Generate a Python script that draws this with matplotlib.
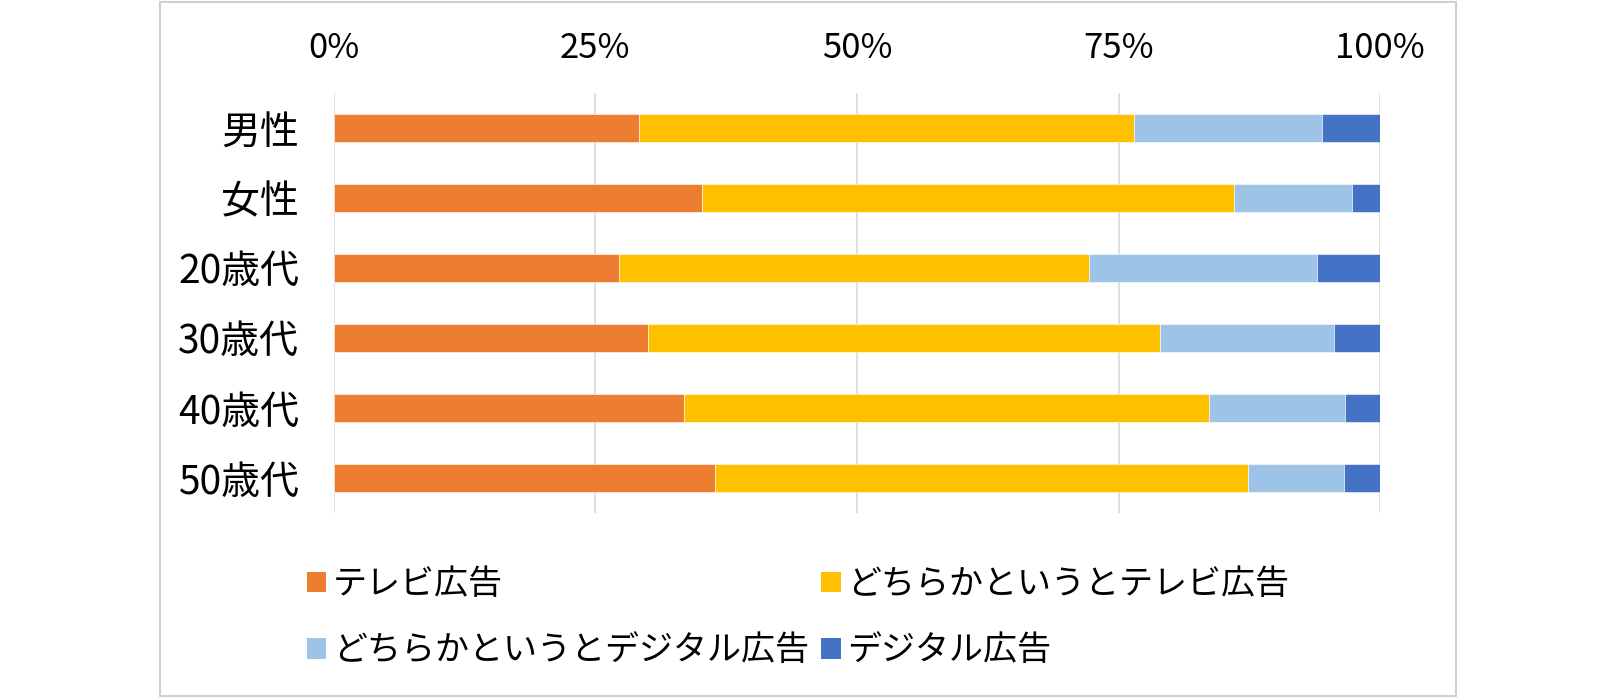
import matplotlib
matplotlib.use('Agg')
import matplotlib.pyplot as plt
from matplotlib.patches import Rectangle, Patch
import numpy as np

plt.rcParams['font.family'] = ['Noto Sans CJK JP', 'DejaVu Sans']

# data (percent)
categories = ['男性', '女性', '20歳代', '30歳代', '40歳代', '50歳代']
series_names = ['テレビ広告', 'どちらかというとテレビ広告',
                'どちらかというとデジタル広告', 'デジタル広告']
tv = [29.2, 35.2, 27.3, 30.0, 33.5, 36.4]
rather_tv = [47.3, 50.8, 44.9, 49.0, 50.1, 51.0]
rather_digital = [17.9, 11.3, 21.8, 16.6, 13.0, 9.1]
digital = [5.6, 2.7, 6.0, 4.4, 3.4, 3.5]
colors = ['#ED7D31', '#FFC000', '#9DC3E6', '#4472C4']

fig = plt.figure(figsize=(16.2, 6.98), dpi=100)
ax = fig.add_axes([0.206, 0.265, 0.646, 0.602])

y = np.arange(len(categories))
left = np.zeros(len(categories))
handles = []
for vals, name, c in zip([tv, rather_tv, rather_digital, digital], series_names, colors):
    ax.barh(y, vals, left=left, height=0.4, color=c, edgecolor='white', linewidth=0.4, zorder=3)
    left += np.array(vals)
    handles.append(Patch(facecolor=c, label=name))

ax.set_xlim(0, 100)
ax.set_ylim(len(categories) - 0.5, -0.5)
ax.set_xticks([0, 25, 50, 75, 100])
ax.set_xticklabels(['0%', '25%', '50%', '75%', '100%'], fontsize=25)
ax.xaxis.tick_top()
ax.tick_params(axis='x', length=0, pad=19)
ax.set_yticks(y)
ax.set_yticklabels(categories, fontsize=28)
ax.tick_params(axis='y', length=0, pad=25)
ax.grid(axis='x', color='#d9d9d9', linewidth=1.2, zorder=0)
for s in ax.spines.values():
    s.set_visible(False)

# legend, row-major order like the original
order = [0, 2, 1, 3]
leg = fig.legend([handles[i] for i in order], [series_names[i] for i in order],
                 ncol=2, loc='upper left', bbox_to_anchor=(0.179, 0.212),
                 frameon=False, fontsize=24.5, handlelength=0.57, handleheight=0.57,
                 handletextpad=0.2, columnspacing=0.35, labelspacing=0.92, borderpad=0)

# outer chart border
fig.patches.append(Rectangle((0.099, 0.003), 0.8, 0.994, transform=fig.transFigure,
                             fill=False, edgecolor='#d0d0d0', linewidth=1.5))

plt.savefig('out.png', dpi=100)
